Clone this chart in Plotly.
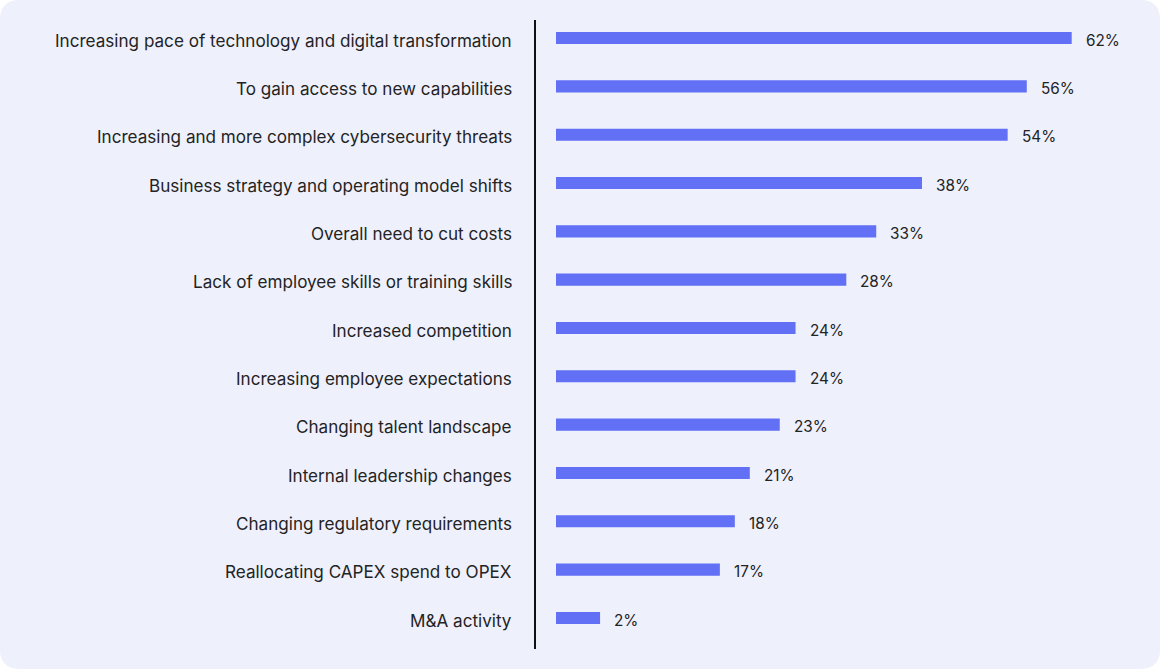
import plotly.graph_objects as go

# ---- data ----
categories = [
    "Increasing pace of technology and digital transformation",
    "To gain access to new capabilities",
    "Increasing and more complex cybersecurity threats",
    "Business strategy and operating model shifts",
    "Overall need to cut costs",
    "Lack of employee skills or training skills",
    "Increased competition",
    "Increasing employee expectations",
    "Changing talent landscape",
    "Internal leadership changes",
    "Changing regulatory requirements",
    "Reallocating CAPEX spend to OPEX",
    "M&A activity",
]
# percentages printed next to the bars
label_values = [62, 56, 54, 38, 33, 28, 24, 24, 23, 21, 18, 17, 2]
# bar lengths as drawn in the reference (in % units)
bar_lengths = [62.0, 56.6, 54.3, 44.0, 38.5, 34.9, 28.8, 28.8, 26.9, 23.3, 21.5, 19.7, 5.3]

BAR_COLOR = "#6270F5"
BG = "#EEF0FC"
TEXT = "#232323"
FONT = "Inter"

W, H = 1160, 669
ml, mr, mt, mb = 536, 40, 20, 20
pw, ph = W - ml - mr, H - mt - mb

fig = go.Figure(
    go.Bar(
        x=bar_lengths,
        y=categories,
        orientation="h",
        marker=dict(color=BAR_COLOR, line=dict(width=0)),
        hoverinfo="skip",
    )
)

for cat, lv, bl in zip(categories, label_values, bar_lengths):
    # value label to the right of the bar
    fig.add_annotation(
        x=bl, y=cat, text=f"{lv}%", showarrow=False,
        xanchor="left", yanchor="middle", xshift=12, yshift=-2,
        font=dict(family=FONT, size=15.3, color=TEXT),
    )
    # category label left of the axis line
    fig.add_annotation(
        x=0, xref="paper", y=cat, text=cat, showarrow=False,
        xanchor="right", yanchor="middle", xshift=-22, yshift=-2,
        font=dict(family=FONT, size=17.1, color=TEXT),
    )

# rounded background card
def px_to_paper_x(px):
    return (px - ml) / pw

def px_to_paper_y(py):
    return (H - mb - py) / ph

r = 20
x0, x1 = px_to_paper_x(0), px_to_paper_x(W)
y0, y1 = px_to_paper_y(H), px_to_paper_y(0)
rx, ry = r / pw, r / ph
path = (
    f"M {x0+rx},{y1} L {x1-rx},{y1} Q {x1},{y1} {x1},{y1-ry} "
    f"L {x1},{y0+ry} Q {x1},{y0} {x1-rx},{y0} "
    f"L {x0+rx},{y0} Q {x0},{y0} {x0},{y0+ry} "
    f"L {x0},{y1-ry} Q {x0},{y1} {x0+rx},{y1} Z"
)
fig.add_shape(type="path", path=path, xref="paper", yref="paper",
              fillcolor=BG, line=dict(width=0), layer="below")

scale = 515.7 / 62.0  # px per % unit
fig.update_layout(
    width=W, height=H,
    margin=dict(l=ml, r=mr, t=mt, b=mb, pad=0),
    paper_bgcolor="white",
    plot_bgcolor="rgba(0,0,0,0)",
    bargap=0.75,
    showlegend=False,
    font=dict(family=FONT, size=15, color=TEXT),
    xaxis=dict(
        range=[-20 / scale, (pw - 20) / scale],
        visible=False, showgrid=False, zeroline=False,
    ),
    yaxis=dict(
        categoryorder="array", categoryarray=categories,
        range=[12 + 31 / 48.33, -18 / 48.33],
        showgrid=False, zeroline=False,
        showline=True, linecolor="#111111", linewidth=1.5,
        ticks="", showticklabels=False,
    ),
)

fig.write_html(
    "out.html",
    config={"displayModeBar": False},
    post_script="document.body.style.margin='0';document.body.style.overflow='hidden';",
)
